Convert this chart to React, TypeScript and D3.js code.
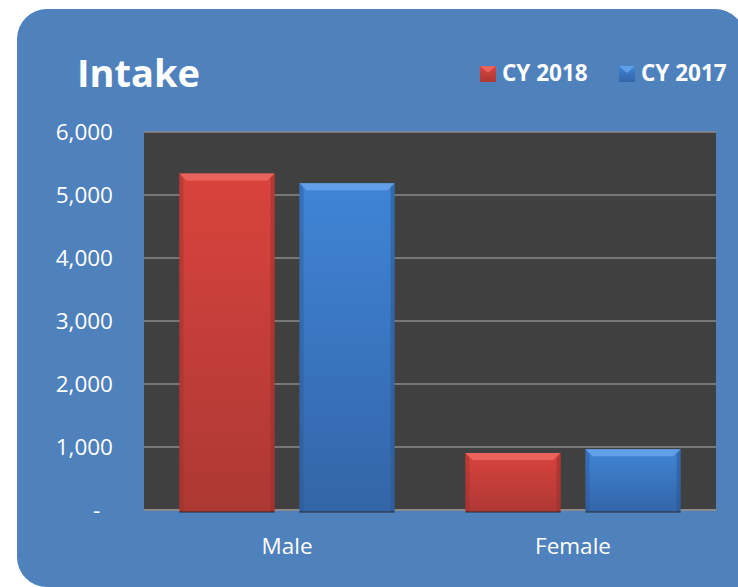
import React, { useEffect, useRef } from 'react';
import * as d3 from 'd3';

const categories = ['Male', 'Female'];
const seriesNames = ['CY 2018', 'CY 2017'];
const cy2018 = [5340, 905];
const cy2017 = [5185, 965];
const yTicks = [0, 1000, 2000, 3000, 4000, 5000, 6000];

const W = 738;
const H = 587;
const FONT = '"Open Sans", "Noto Sans", sans-serif';

const palette: Record<string, { top: string; bottom: string; bevel: string; side: string }> = {
  'CY 2018': { top: '#d9433e', bottom: '#ad3834', bevel: '#e9625c', side: '#9a2e2b' },
  'CY 2017': { top: '#4084d6', bottom: '#3365a8', bevel: '#619fe8', side: '#2b5590' },
};

const App: React.FC = () => {
  const svgRef = useRef<SVGSVGElement | null>(null);

  useEffect(() => {
    if (!svgRef.current) return;
    const svg = d3.select(svgRef.current);
    svg.selectAll('*').remove();

    const plot = { left: 144, right: 716, top: 132, bottom: 510 };
    const values: Record<string, number[]> = { 'CY 2018': cy2018, 'CY 2017': cy2017 };

    const defs = svg.append('defs');
    seriesNames.forEach((s, i) => {
      const g = defs.append('linearGradient')
        .attr('id', `grad${i}`)
        .attr('x1', 0).attr('y1', 0).attr('x2', 0).attr('y2', 1);
      g.append('stop').attr('offset', '0%').attr('stop-color', palette[s].top);
      g.append('stop').attr('offset', '100%').attr('stop-color', palette[s].bottom);
    });

    // panel: rounded on three corners, runs off the bottom-right edge
    const r = 30;
    const px0 = 17, py0 = 9, px1 = 745, py1 = 587;
    const p = d3.path();
    p.moveTo(px0 + r, py0);
    p.lineTo(px1 - r, py0);
    p.arcTo(px1, py0, px1, py0 + r, r);
    p.lineTo(px1, py1 + 20);
    p.lineTo(px0 + r, py1 + 20);
    p.lineTo(px0 + r, py1);
    p.arcTo(px0, py1, px0, py1 - r, r);
    p.lineTo(px0, py0 + r);
    p.arcTo(px0, py0, px0 + r, py0, r);
    p.closePath();
    svg.append('path').attr('d', p.toString()).attr('fill', '#4f81bd');

    const x0 = d3.scaleBand<string>()
      .domain(categories)
      .range([plot.left, plot.right])
      .paddingInner(0.248)
      .paddingOuter(0.124);

    const x1 = d3.scaleBand<string>()
      .domain(seriesNames)
      .range([0, x0.bandwidth()])
      .paddingInner(0.208);

    const y = d3.scaleLinear()
      .domain([0, 6000])
      .range([plot.bottom, plot.top]);

    // plot area
    svg.append('rect')
      .attr('x', plot.left).attr('y', plot.top)
      .attr('width', plot.right - plot.left)
      .attr('height', plot.bottom - plot.top)
      .attr('fill', '#404040');

    // gridlines
    svg.append('g')
      .selectAll('line')
      .data(yTicks)
      .join('line')
        .attr('x1', plot.left).attr('x2', plot.right)
        .attr('y1', d => y(d)).attr('y2', d => y(d))
        .attr('stroke', '#8a8a8a')
        .attr('stroke-width', d => (d === 0 ? 2 : 1.3));

    // y axis labels
    const yAxis = d3.axisLeft(y)
      .tickValues(yTicks)
      .tickSize(0)
      .tickPadding(0)
      .tickFormat(d => (+d === 0 ? '-\u2007' : d3.format(',')(+d)));

    const yg = svg.append('g')
      .attr('transform', 'translate(113,0)')
      .call(yAxis);
    yg.select('.domain').remove();
    yg.selectAll('text')
      .attr('fill', '#ffffff')
      .attr('font-family', FONT)
      .attr('font-size', 22.5)
      .attr('dy', '0.35em');

    // bars
    const groups = svg.append('g')
      .selectAll('g')
      .data(categories)
      .join('g')
        .attr('transform', c => `translate(${x0(c)},0)`);

    seriesNames.forEach((s, si) => {
      const bw = x1.bandwidth();
      const bx = x1(s) || 0;
      const bevel = 7;
      const side = 4;

      groups.append('rect')
        .attr('x', bx)
        .attr('y', (_, i) => y(values[s][i]))
        .attr('width', bw)
        .attr('height', (_, i) => y(0) - y(values[s][i]) + 2)
        .attr('fill', `url(#grad${si})`);

      // side shading
      groups.append('rect')
        .attr('x', bx)
        .attr('y', (_, i) => y(values[s][i]))
        .attr('width', side)
        .attr('height', (_, i) => y(0) - y(values[s][i]) + 2)
        .attr('fill', palette[s].side)
        .attr('opacity', 0.4);
      groups.append('rect')
        .attr('x', bx + bw - side)
        .attr('y', (_, i) => y(values[s][i]))
        .attr('width', side)
        .attr('height', (_, i) => y(0) - y(values[s][i]) + 2)
        .attr('fill', palette[s].side)
        .attr('opacity', 0.55);

      // top bevel
      groups.append('polygon')
        .attr('points', (_, i) => {
          const t = y(values[s][i]);
          return [
            [bx, t], [bx + bw, t], [bx + bw - bevel, t + bevel], [bx + bevel, t + bevel],
          ].map(q => q.join(',')).join(' ');
        })
        .attr('fill', palette[s].bevel);

      // bottom shadow line
      groups.append('line')
        .attr('x1', bx).attr('x2', bx + bw)
        .attr('y1', y(0) + 2).attr('y2', y(0) + 2)
        .attr('stroke', '#2a2a2a')
        .attr('stroke-width', 1);
    });

    // x axis labels
    const xAxis = d3.axisBottom(x0).tickSize(0).tickPadding(0);
    const xg = svg.append('g')
      .attr('transform', `translate(0,${plot.bottom})`)
      .call(xAxis);
    xg.select('.domain').remove();
    xg.selectAll('text')
      .attr('fill', '#ffffff')
      .attr('font-family', FONT)
      .attr('font-size', 22.5)
      .attr('dy', null)
      .attr('y', 44);

    // title
    svg.append('text')
      .attr('x', 77).attr('y', 87)
      .attr('fill', '#ffffff')
      .attr('font-family', FONT)
      .attr('font-weight', 700)
      .attr('font-size', 38)
      .text('Intake');

    // legend
    const legendX = [480, 619];
    const legend = svg.append('g')
      .selectAll('g')
      .data(seriesNames)
      .join('g')
        .attr('transform', (_, i) => `translate(${legendX[i]},66)`);
    legend.append('rect')
      .attr('width', 16).attr('height', 16)
      .attr('fill', (_, i) => `url(#grad${i})`);
    legend.append('polygon')
      .attr('points', '0,0 16,0 8,7')
      .attr('fill', s => palette[s].bevel);
    legend.append('text')
      .attr('x', 22).attr('y', 15)
      .attr('fill', '#ffffff')
      .attr('font-family', FONT)
      .attr('font-weight', 700)
      .attr('font-size', 22.5)
      .text(s => s);
  }, []);

  return (
    <svg
      ref={svgRef}
      width={W}
      height={H}
      style={{ position: 'absolute', left: 0, top: 0, background: '#ffffff' }}
    />
  );
};

export default App;
